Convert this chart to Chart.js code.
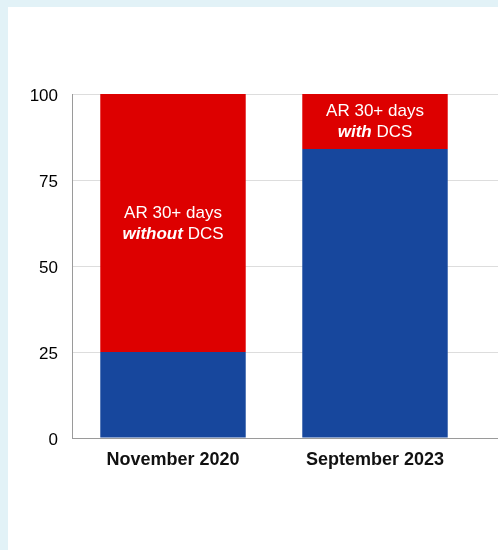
<!DOCTYPE html>
<html>
<head>
<meta charset="utf-8">
<script src="https://cdn.jsdelivr.net/npm/chart.js@4"></script>
<style>
  html, body { margin: 0; padding: 0; background: #e2f2f7; overflow: hidden; }
  .card { position: absolute; left: 8px; top: 7px; width: 490px; height: 543px; background: #fff; }
  canvas { display: block; }
</style>
</head>
<body>
<div class="card"><canvas id="chart" width="490" height="543"></canvas></div>
<script>
const categories = ['November 2020', 'September 2023'];
const blueValues = [25, 84];
const redValues = [75, 16];
const yTicks = [0, 25, 50, 75, 100];
const redLabels = [['AR 30+ days', 'without', ' DCS'], ['AR 30+ days', 'with', ' DCS']];

const FONT = '"Liberation Sans", Arial, Helvetica, sans-serif';

// grid lines run on past the chart area to the page edge
const gridExtend = {
    id: 'gridExtend',
    beforeDatasetsDraw(chart) {
        const { ctx, chartArea, scales } = chart;
        ctx.save();
        ctx.lineWidth = 1;
        yTicks.forEach(v => {
            const y = Math.round(scales.y.getPixelForValue(v)) + 0.5;
            ctx.strokeStyle = v === 0 ? '#9a9a9a' : '#dddddd';
            ctx.beginPath();
            ctx.moveTo(chartArea.right, y);
            ctx.lineTo(chart.width, y);
            ctx.stroke();
        });
        ctx.restore();
    }
};

// white labels inside the red segments
const segLabels = {
    id: 'segLabels',
    afterDatasetsDraw(chart) {
        const { ctx } = chart;
        const meta = chart.getDatasetMeta(1);
        ctx.save();
        ctx.fillStyle = '#ffffff';
        ctx.textBaseline = 'middle';
        meta.data.forEach((bar, i) => {
            const { x, y, base } = bar.getProps(['x', 'y', 'base'], true);
            const cy = (y + base) / 2;
            const [l1, em, rest] = redLabels[i];
            ctx.font = '17px ' + FONT;
            ctx.textAlign = 'center';
            ctx.fillText(l1, x, cy - 10);
            ctx.font = 'italic bold 17px ' + FONT;
            const w1 = ctx.measureText(em).width;
            ctx.font = '17px ' + FONT;
            const w2 = ctx.measureText(rest).width;
            const start = x - (w1 + w2) / 2;
            ctx.textAlign = 'left';
            ctx.font = 'italic bold 17px ' + FONT;
            ctx.fillText(em, start, cy + 11);
            ctx.font = '17px ' + FONT;
            ctx.fillText(rest, start + w1, cy + 11);
        });
        ctx.restore();
    }
};

new Chart(document.getElementById('chart'), {
    type: 'bar',
    data: {
        labels: categories,
        datasets: [
            { data: blueValues, backgroundColor: '#17479d', borderWidth: 0 },
            { data: redValues, backgroundColor: '#dd0000', borderWidth: 0 }
        ]
    },
    options: {
        responsive: false,
        animation: false,
        layout: { padding: { top: 87, right: 22, left: 0, bottom: 72 } },
        plugins: { legend: { display: false }, tooltip: { enabled: false } },
        scales: {
            x: {
                stacked: true,
                grid: { display: false },
                border: { color: '#9a9a9a' },
                ticks: { color: '#111', font: { family: FONT, size: 18, weight: 'bold' }, padding: 3 },
                afterFit: s => { s.height = 40; }
            },
            y: {
                stacked: true,
                min: 0,
                max: 100,
                afterBuildTicks: s => { s.ticks = yTicks.map(v => ({ value: v })); },
                grid: { color: '#dddddd', drawTicks: false },
                border: { color: '#9a9a9a' },
                ticks: { color: '#000', font: { family: FONT, size: 17 }, padding: 14, labelOffset: 2 },
                afterFit: s => { s.width = 64; }
            }
        }
    },
    plugins: [gridExtend, segLabels]
});
</script>
</body>
</html>
